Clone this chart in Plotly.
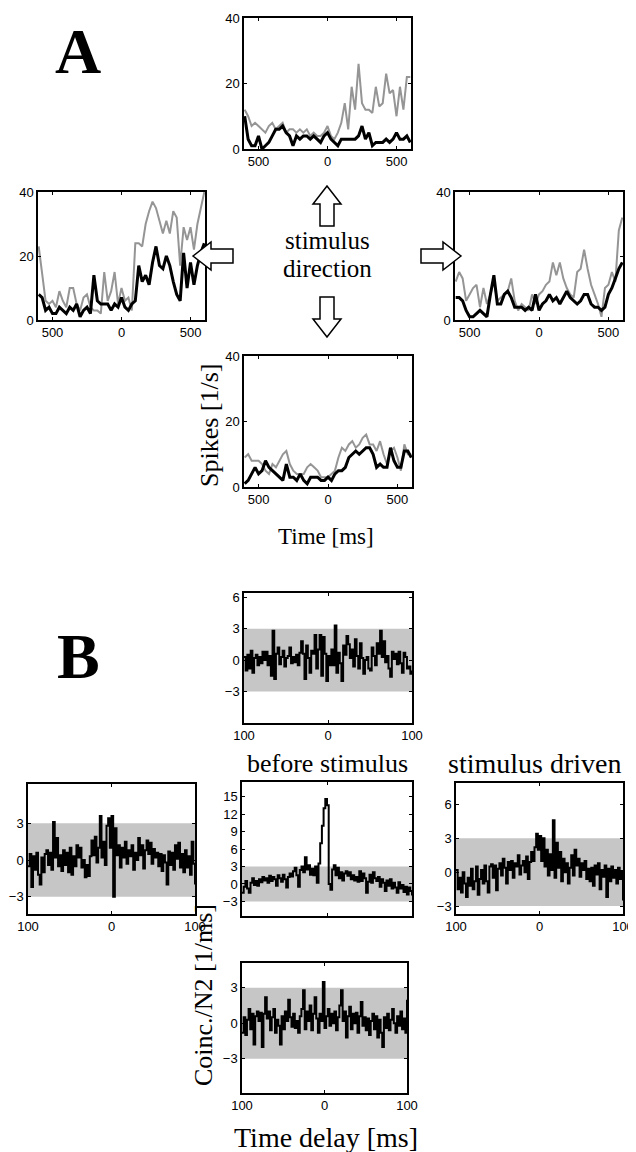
import numpy as np
import plotly.graph_objects as go

# page body has an 8px default margin; figure is sized to fill the rest of the window
OX, OY = 8, 8
W, H = 636 - OX, 1152 - OY

# ---------------- Panel A data (spike rates, 25 ms bins, -600..600 ms) ----------------
A_time_ticks = [-500, 0, 500]
A_time_ticktext = ["500", "0", "500"]
A_rate_ticks = [0, 20, 40]

A_up_gray = [12, 10, 7, 8, 7, 6, 5, 7, 8, 6, 7, 8, 5, 6, 6, 5, 6, 5, 6, 4, 5, 4, 4, 5, 7,
             4, 3, 5, 8, 14, 6, 19, 12, 26, 14, 12, 12, 11, 19, 13, 14, 23, 17, 18, 10, 19, 12, 22, 22]
A_up_black = [10, 3, 1, 1, 4, 0, 1, 2, 4, 6, 6, 7, 5, 4, 1, 4, 3, 4, 4, 3, 4, 3, 2, 4, 5,
              3, 2, 1, 3, 3, 3, 3, 3, 4, 7, 3, 5, 1, 2, 2, 2, 3, 2, 3, 5, 3, 3, 4, 2]

A_left_gray = [23, 14, 6, 5, 6, 4, 9, 6, 4, 10, 10, 5, 3, 7, 8, 4, 3, 3, 2, 15, 6, 9, 15, 5, 10,
               6, 7, 3, 24, 24, 23, 30, 34, 37, 35, 31, 27, 31, 27, 34, 32, 17, 29, 25, 29, 22, 30, 35, 40]
A_left_black = [8, 7, 3, 4, 2, 2, 4, 3, 2, 4, 3, 5, 1, 3, 4, 2, 14, 6, 5, 5, 5, 3, 5, 4, 7,
                4, 3, 5, 6, 17, 12, 14, 11, 18, 23, 17, 16, 20, 17, 12, 8, 6, 21, 10, 18, 11, 17, 21, 24]

A_right_gray = [12, 15, 13, 6, 8, 10, 11, 4, 10, 5, 8, 12, 6, 7, 8, 9, 13, 6, 3, 5, 4, 3, 8, 5, 8,
                9, 11, 12, 18, 14, 18, 13, 10, 8, 7, 15, 16, 22, 16, 11, 8, 5, 1, 10, 11, 15, 12, 28, 32]
A_right_black = [7, 7, 6, 3, 1, 1, 2, 3, 2, 1, 8, 14, 5, 5, 8, 9, 7, 4, 4, 4, 3, 4, 3, 8, 3,
                 5, 6, 8, 6, 7, 5, 7, 9, 7, 6, 5, 6, 8, 8, 5, 4, 4, 3, 4, 8, 10, 13, 16, 18]

A_down_gray = [9, 10, 8, 8, 8, 7, 5, 4, 7, 6, 8, 10, 11, 7, 5, 4, 4, 4, 6, 7, 6, 5, 3, 3, 3,
               4, 5, 9, 12, 11, 13, 14, 12, 13, 15, 16, 13, 13, 11, 14, 10, 7, 11, 12, 9, 5, 13, 10, 10]
A_down_black = [1, 2, 4, 6, 4, 5, 8, 6, 5, 4, 3, 2, 7, 3, 3, 2, 4, 2, 1, 3, 3, 3, 2, 2, 3,
                2, 4, 5, 5, 6, 9, 10, 11, 10, 11, 12, 12, 10, 6, 7, 6, 6, 12, 8, 6, 6, 11, 11, 9]

# ---------------- Panel B data (coincidences, 2 ms bins, -100..100 ms) ----------------
B_delay_ticks = [-100, 0, 100]
B_delay_ticktext = ["100", "0", "100"]
B_band = [-3, 3]

B_top = [0.3, -1.0, 0.5, -0.8, 0.9, -1.2, 0.2, 0.5, -0.5, 0.3, -0.3, 0.8, 0.0, 0.8, -0.5, 0.4, -1.5,
         2.8, -1.8, 0.6, 1.2, -0.4, 0.3, 0.9, -0.6, 0.2, 0.4, 1.2, -0.3, 0.3, -0.2, 0.5, -0.5, 0.7,
         1.8, 0.6, -1.8, 1.4, 0.2, -1.2, 0.9, 0.6, 2.4, -0.8, 1.0, 2.4, -1.5, 2.2, 0.6, -2.0, 0.4,
         -0.5, 1.0, -0.5, 3.3, -1.2, 0.7, -0.3, -2.0, 1.4, 0.5, 2.3, 1.5, 0.2, 1.0, -0.6, 2.0, 0.4,
         -0.8, 1.6, 0.2, -1.3, 0.0, 0.3, -0.8, -1.0, 1.2, 0.4, -0.5, 1.6, 0.6, 2.8, 0.3, 1.8, -0.2,
         0.4, -0.8, -1.6, 0.8, 0.1, 0.6, -0.4, 0.8, -0.3, -1.2, 0.7, 0.3, -0.8, -0.6, -1.3, -1.0]

B_left = [-0.5, 0.5, -2.2, 0.3, -0.8, 0.6, -1.2, -2.0, 0.2, -1.0, 0.5, 0.8, -0.4, 0.6, -0.8, 3.1,
          0.2, 1.8, -0.5, 0.4, -0.9, 0.8, -0.4, 0.6, -1.0, 1.0, -1.2, 0.3, -0.5, 1.2, 0.2, 1.0, -0.6,
          0.0, -1.4, -0.4, -1.3, 0.3, 1.6, 0.4, 1.9, -0.2, 1.0, 3.6, 0.2, 1.5, -0.4, 2.8, 3.4, 1.0,
          3.6, -3.0, 2.6, 0.4, 1.2, -0.6, 1.0, 0.2, 1.5, -0.3, 0.8, 0.3, 1.2, -0.8, 0.6, 0.0, 1.8,
          0.4, 1.2, -0.7, 0.8, 1.6, 0.5, 1.4, -0.3, 0.9, 0.2, 0.6, -0.5, 0.5, -0.9, 0.4, -0.2, -2.0,
          0.7, -0.4, 0.6, -0.8, 1.2, 0.1, 1.4, -0.6, 0.5, -1.0, 0.8, -0.6, 0.3, -1.2, 1.5, -0.3, -2.0]

B_mid = [-1.5, -0.5, 0.5, -0.8, -1.5, 0.2, 1.0, -0.2, 0.5, -0.3, 0.8, 0.3, 1.2, 0.6, 1.0, 0.2, 1.4,
         0.5, 1.2, 0.8, -0.3, 1.5, 1.0, 0.4, 1.6, 0.8, -0.6, 1.2, 1.8, 1.3, 2.2, 2.8, 1.5, -0.5, 2.4,
         3.0, 2.0, 4.6, 2.5, 3.2, 1.6, 2.6, 1.5, 3.0, 0.2, 3.5, 7.0, 10.0, 13.0, 14.6, 13.5, 0.0,
         -1.0, 2.5, 3.2, 1.5, 2.8, 1.0, 2.0, 0.6, 1.8, 2.2, 1.4, 2.0, 0.8, 1.5, 0.6, 1.2, 0.4, 2.2,
         0.5, 1.8, 1.0, -1.5, 0.4, 1.6, 0.2, 2.0, 1.0, 0.5, 1.2, -0.5, 0.8, 0.2, -1.2, 0.6, -0.3,
         0.8, -0.8, 0.2, -0.6, -1.5, 0.3, -0.8, -0.2, -1.4, -0.5, -1.8, -0.6, -1.2, -2.0]

B_right = [0.2, -1.5, -0.5, -1.8, 0.0, -1.0, -2.2, -0.5, -1.2, 0.3, -1.5, -0.8, 0.5, -2.0, -0.6,
           0.2, -1.0, 0.6, -0.8, -1.8, 0.5, 0.7, -0.5, 0.6, -1.6, 0.3, 0.8, -0.3, 1.2, 0.4, -1.0,
           0.9, 0.2, 1.0, -0.5, 0.8, 0.5, 1.5, -0.2, 0.6, 1.0, 0.0, 1.4, -0.6, 0.9, 1.8, 1.0, 2.2,
           3.4, 2.0, 3.2, 1.0, 3.0, 0.5, 2.0, -0.3, 1.6, 0.2, 4.6, -0.5, 2.6, 0.4, 1.8, -0.8, 1.2,
           0.0, 0.8, -1.0, 0.4, 1.5, -0.3, 2.0, 0.6, 1.2, -0.4, 0.8, 0.2, 1.0, -0.6, 0.3, -0.8, 0.4,
           -1.2, 0.6, -0.2, 0.8, -1.5, 0.2, -0.4, 0.6, -2.2, 0.3, -0.8, 0.5, -0.5, 0.2, -1.0, 0.4,
           -0.6, 0.1, -2.5]

B_bottom = [-0.8, 0.5, -1.0, 0.3, 1.2, -0.5, 0.8, -1.8, 0.6, 1.0, 0.2, 0.9, -2.0, 0.8, 2.2, 0.4,
            1.0, -0.6, 0.5, 1.2, -0.8, 0.3, -0.2, -1.8, 0.6, -0.5, 1.0, 0.2, 2.0, 0.5, -0.3, 0.8,
            -0.4, 0.2, -0.8, 0.6, 1.2, 2.8, -0.5, 1.0, 0.2, 1.5, -0.6, 0.8, 2.2, 0.4, -0.8, 0.8, 0.2,
            3.5, -0.4, 0.6, 1.2, -0.2, 0.8, 0.0, 1.0, -0.6, 0.5, 1.5, 2.8, 0.2, 1.0, -1.2, 0.6, 1.4,
            -0.5, 0.8, 0.0, 0.9, -0.8, 0.6, 1.8, -0.2, 0.5, -0.6, 0.4, -1.0, 0.2, 0.8, -0.5, 0.6,
            -1.2, 0.3, -0.8, -2.0, 0.5, -0.4, 0.8, -0.6, 0.3, 1.2, 0.0, -0.8, 0.6, -0.2, 1.0, -0.5,
            0.4, -0.8, 2.0]

# ---------------- layout geometry (window pixel boxes: x0, x1, y0, y1) ----------------
boxes = {
    1: (244, 411, 18, 149),    # A up
    2: (38, 205, 192, 320),    # A left
    3: (455, 623, 192, 320),   # A right
    4: (244, 412, 356, 487),   # A down
    5: (244, 412, 593, 723),   # B top
    6: (28, 195, 784, 914),    # B left
    7: (242, 412, 782, 916),   # B middle
    8: (456, 623, 783, 914),   # B right
    9: (242, 407, 963, 1093),  # B bottom
}

def fx(x):
    return (x - OX) / W

def fy(y):
    return 1 - (y - OY) / H

fig = go.Figure()

A_sets = {1: (A_up_gray, A_up_black), 2: (A_left_gray, A_left_black),
          3: (A_right_gray, A_right_black), 4: (A_down_gray, A_down_black)}
for i, (g, b) in A_sets.items():
    t = np.linspace(-600, 600, len(g))
    sfx = "" if i == 1 else str(i)
    fig.add_trace(go.Scatter(x=t, y=g, mode="lines", line=dict(color="#959595", width=2),
                             xaxis="x" + sfx, yaxis="y" + sfx, showlegend=False))
    fig.add_trace(go.Scatter(x=t, y=b, mode="lines", line=dict(color="black", width=3),
                             xaxis="x" + sfx, yaxis="y" + sfx, showlegend=False))

B_sets = {5: B_top, 6: B_left, 7: B_mid, 8: B_right, 9: B_bottom}
for i, v in B_sets.items():
    t = np.linspace(-100, 100, len(v))
    fig.add_trace(go.Scatter(x=t, y=v, mode="lines", line=dict(color="black", width=2, shape="hv"),
                             xaxis="x" + str(i), yaxis="y" + str(i), showlegend=False))

tickfont = dict(family="Liberation Sans, Arial, sans-serif", size=13, color="black")
common = dict(showline=True, linecolor="black", linewidth=1.5, mirror="ticks", ticks="inside",
              ticklen=3, tickcolor="black", tickwidth=1, showgrid=False, zeroline=False,
              tickfont=tickfont, fixedrange=True, automargin=False)

yranges = {1: [0, 40], 2: [0, 40], 3: [0, 40], 4: [0, 40],
           5: [-6.0, 6.4], 6: [-4.4, 6.2], 7: [-5.5, 17.5], 8: [-3.7, 7.9], 9: [-5.9, 5.1]}
yticks = {1: A_rate_ticks, 2: A_rate_ticks, 3: A_rate_ticks, 4: A_rate_ticks,
          5: [-3, 0, 3, 6], 6: [-3, 0, 3], 7: [-3, 0, 3, 6, 9, 12, 15], 8: [-3, 0, 3, 6], 9: [-3, 0, 3]}

layout = dict(width=W, height=H, margin=dict(l=0, r=0, t=0, b=0, pad=0, autoexpand=False),
              paper_bgcolor="white", plot_bgcolor="white", showlegend=False, template="none")
for i, (x0, x1, y0, y1) in boxes.items():
    sfx = "" if i == 1 else str(i)
    if i <= 4:
        xr, xt, xtt = [-605, 605], A_time_ticks, A_time_ticktext
    else:
        xr, xt, xtt = [-100, 100], B_delay_ticks, B_delay_ticktext
    xa = dict(common, domain=[fx(x0), fx(x1)], anchor="y" + sfx, range=xr,
              tickvals=xt, ticktext=xtt)
    if i == 7:
        xa["showticklabels"] = False
    ya = dict(common, domain=[fy(y1), fy(y0)], anchor="x" + sfx, range=yranges[i],
              tickvals=yticks[i])
    layout["xaxis" + sfx] = xa
    layout["yaxis" + sfx] = ya

fig.update_layout(**layout)

# gray significance bands
for i in range(5, 10):
    fig.add_shape(type="rect", xref="x%d domain" % i, x0=0, x1=1, yref="y%d" % i,
                  y0=B_band[0], y1=B_band[1], fillcolor="#c6c6c6", line=dict(width=0), layer="below")

# hollow block arrows (decoration)
def arrow(tipx, tipy, dx, dy, length=40, head=18, hw=14, sw=7):
    nx, ny = -dy, dx
    bx, by = tipx - dx * length, tipy - dy * length
    hx, hy = tipx - dx * head, tipy - dy * head
    pts = [(tipx, tipy), (hx + nx * hw, hy + ny * hw), (hx + nx * sw, hy + ny * sw),
           (bx + nx * sw, by + ny * sw), (bx - nx * sw, by - ny * sw),
           (hx - nx * sw, hy - ny * sw), (hx - nx * hw, hy - ny * hw)]
    path = "M " + " L ".join("%.5f %.5f" % (fx(a), fy(b)) for a, b in pts) + " Z"
    fig.add_shape(type="path", path=path, xref="paper", yref="paper",
                  line=dict(color="black", width=1.5), fillcolor="white")

arrow(327, 186, 0, -1)
arrow(327, 337, 0, 1)
arrow(193, 256, -1, 0)
arrow(461, 256, 1, 0)

serif = "Liberation Serif, Times New Roman, serif"

def label(text, x, y, size, angle=0, bold=False):
    fig.add_annotation(text=("<b>%s</b>" % text) if bold else text, x=fx(x), y=fy(y),
                       xref="paper", yref="paper", showarrow=False, textangle=angle,
                       font=dict(family=serif, size=size, color="black"),
                       xanchor="center", yanchor="middle")

label("A", 78, 51, 64, bold=True)
label("B", 78, 656, 64, bold=True)
label("stimulus", 327, 240, 25)
label("direction", 327, 268, 25)
label("Spikes [1/s]", 209, 425, 26, angle=-90)
label("Time [ms]", 326, 536, 23)
label("before stimulus", 327, 763, 26)
label("stimulus driven", 534, 763, 28)
label("Coinc./N2 [1/ms]", 203, 995, 26, angle=-90)
label("Time delay [ms]", 326, 1137, 28)

fig.write_html("out.html")
